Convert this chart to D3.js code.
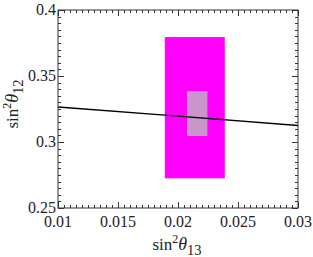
<!DOCTYPE html>
<html>
<head>
<meta charset="utf-8">
<script src="https://cdn.jsdelivr.net/npm/d3@7"></script>
<style>
  html, body { margin: 0; padding: 0; background: #fff; }
  svg text { font-family: "Liberation Serif", "Times New Roman", serif; fill: #222; }
</style>
</head>
<body>
<svg id="chart" width="313" height="257"></svg>
<script>
// axis ranges and ticks
var xDomain = [0.01, 0.03];
var yDomain = [0.25, 0.4];
var xTicks = [0.01, 0.015, 0.02, 0.025, 0.03];
var xTickLabels = ["0.01", "0.015", "0.02", "0.025", "0.03"];
var yTicks = [0.25, 0.3, 0.35, 0.4];
var yTickLabels = ["0.25", "0.3", "0.35", "0.4"];

// regions: outer (3 sigma) box and inner (1 sigma) box
var outerBox = { x0: 0.0189, x1: 0.0239, y0: 0.2725, y1: 0.3795 };
var innerBox = { x0: 0.02075, x1: 0.02245, y0: 0.3045, y1: 0.3385 };

// model line
var lineX = [0.01, 0.02, 0.03];
var lineY = [0.3265, 0.3196, 0.3125];

(function () {
  var svg = d3.select("#chart");
  var m = { left: 58, right: 15, top: 10, bottom: 49 };
  var W = 313, H = 257;

  var x = d3.scaleLinear().domain(xDomain).range([m.left, W - m.right]);
  var y = d3.scaleLinear().domain(yDomain).range([H - m.bottom, m.top]);

  var g = svg.append("g");

  g.append("rect")
    .attr("x", x(outerBox.x0)).attr("y", y(outerBox.y1))
    .attr("width", x(outerBox.x1) - x(outerBox.x0))
    .attr("height", y(outerBox.y0) - y(outerBox.y1))
    .attr("fill", "#ff00ff");

  g.append("rect")
    .attr("x", x(innerBox.x0)).attr("y", y(innerBox.y1))
    .attr("width", x(innerBox.x1) - x(innerBox.x0))
    .attr("height", y(innerBox.y0) - y(innerBox.y1))
    .attr("fill", "#c896c8");

  var pts = lineX.map(function (v, i) { return [v, lineY[i]]; });
  g.append("path").datum(pts)
    .attr("fill", "none").attr("stroke", "#000").attr("stroke-width", 1.4)
    .attr("d", d3.line().x(function (d) { return x(d[0]); }).y(function (d) { return y(d[1]); }));

  // frame
  var x0 = x(xDomain[0]), x1 = x(xDomain[1]), y0 = y(yDomain[0]), y1 = y(yDomain[1]);
  g.append("rect").attr("x", x0).attr("y", y1).attr("width", x1 - x0).attr("height", y0 - y1)
    .attr("fill", "none").attr("stroke", "#333").attr("stroke-width", 1);

  // ticks (inside, on all four sides)
  var xMinor = d3.range(0, 41).map(function (i) { return xDomain[0] + i * 0.0005; });
  var yMinor = d3.range(0, 31).map(function (i) { return yDomain[0] + i * 0.005; });
  function isMajor(v, list) { return list.some(function (t) { return Math.abs(t - v) < 1e-9; }); }

  var tk = g.append("g").attr("stroke", "#333").attr("stroke-width", 1);
  xMinor.forEach(function (v) {
    var L = isMajor(v, xTicks) ? 6 : 3;
    var px = Math.round(x(v)) + 0.5;
    tk.append("line").attr("x1", px).attr("x2", px).attr("y1", y0).attr("y2", y0 - L);
    tk.append("line").attr("x1", px).attr("x2", px).attr("y1", y1).attr("y2", y1 + L);
  });
  yMinor.forEach(function (v) {
    var L = isMajor(v, yTicks) ? 6 : 3;
    var py = Math.round(y(v)) + 0.5;
    tk.append("line").attr("y1", py).attr("y2", py).attr("x1", x0).attr("x2", x0 + L);
    tk.append("line").attr("y1", py).attr("y2", py).attr("x1", x1).attr("x2", x1 - L);
  });

  // tick labels
  g.selectAll("text.xl").data(xTicks).join("text").attr("class", "xl")
    .attr("x", function (d) { return x(d); }).attr("y", y0 + 19)
    .attr("text-anchor", "middle").attr("font-size", 16)
    .text(function (d, i) { return xTickLabels[i]; });
  g.selectAll("text.yl").data(yTicks).join("text").attr("class", "yl")
    .attr("x", x0 - 2).attr("y", function (d) { return y(d) + 5; })
    .attr("text-anchor", "end").attr("font-size", 16)
    .text(function (d, i) { return yTickLabels[i]; });

  // axis titles
  function title(sel, sub) {
    sel.append("tspan").text("sin");
    sel.append("tspan").attr("dy", -7).attr("font-size", 12).text("2");
    sel.append("tspan").attr("dy", 7).attr("font-style", "italic").attr("font-size", 18).text("θ");
    sel.append("tspan").attr("dy", 5).attr("font-size", 14.5).text(sub);
  }
  var xt = g.append("text").attr("x", (x0 + x1) / 2 - 1).attr("y", 250)
    .attr("text-anchor", "middle").attr("font-size", 17);
  title(xt, "13");
  var yt = g.append("text").attr("transform", "translate(18,104) rotate(-90)")
    .attr("text-anchor", "middle").attr("font-size", 17);
  title(yt, "12");
})();
</script>
</body>
</html>
